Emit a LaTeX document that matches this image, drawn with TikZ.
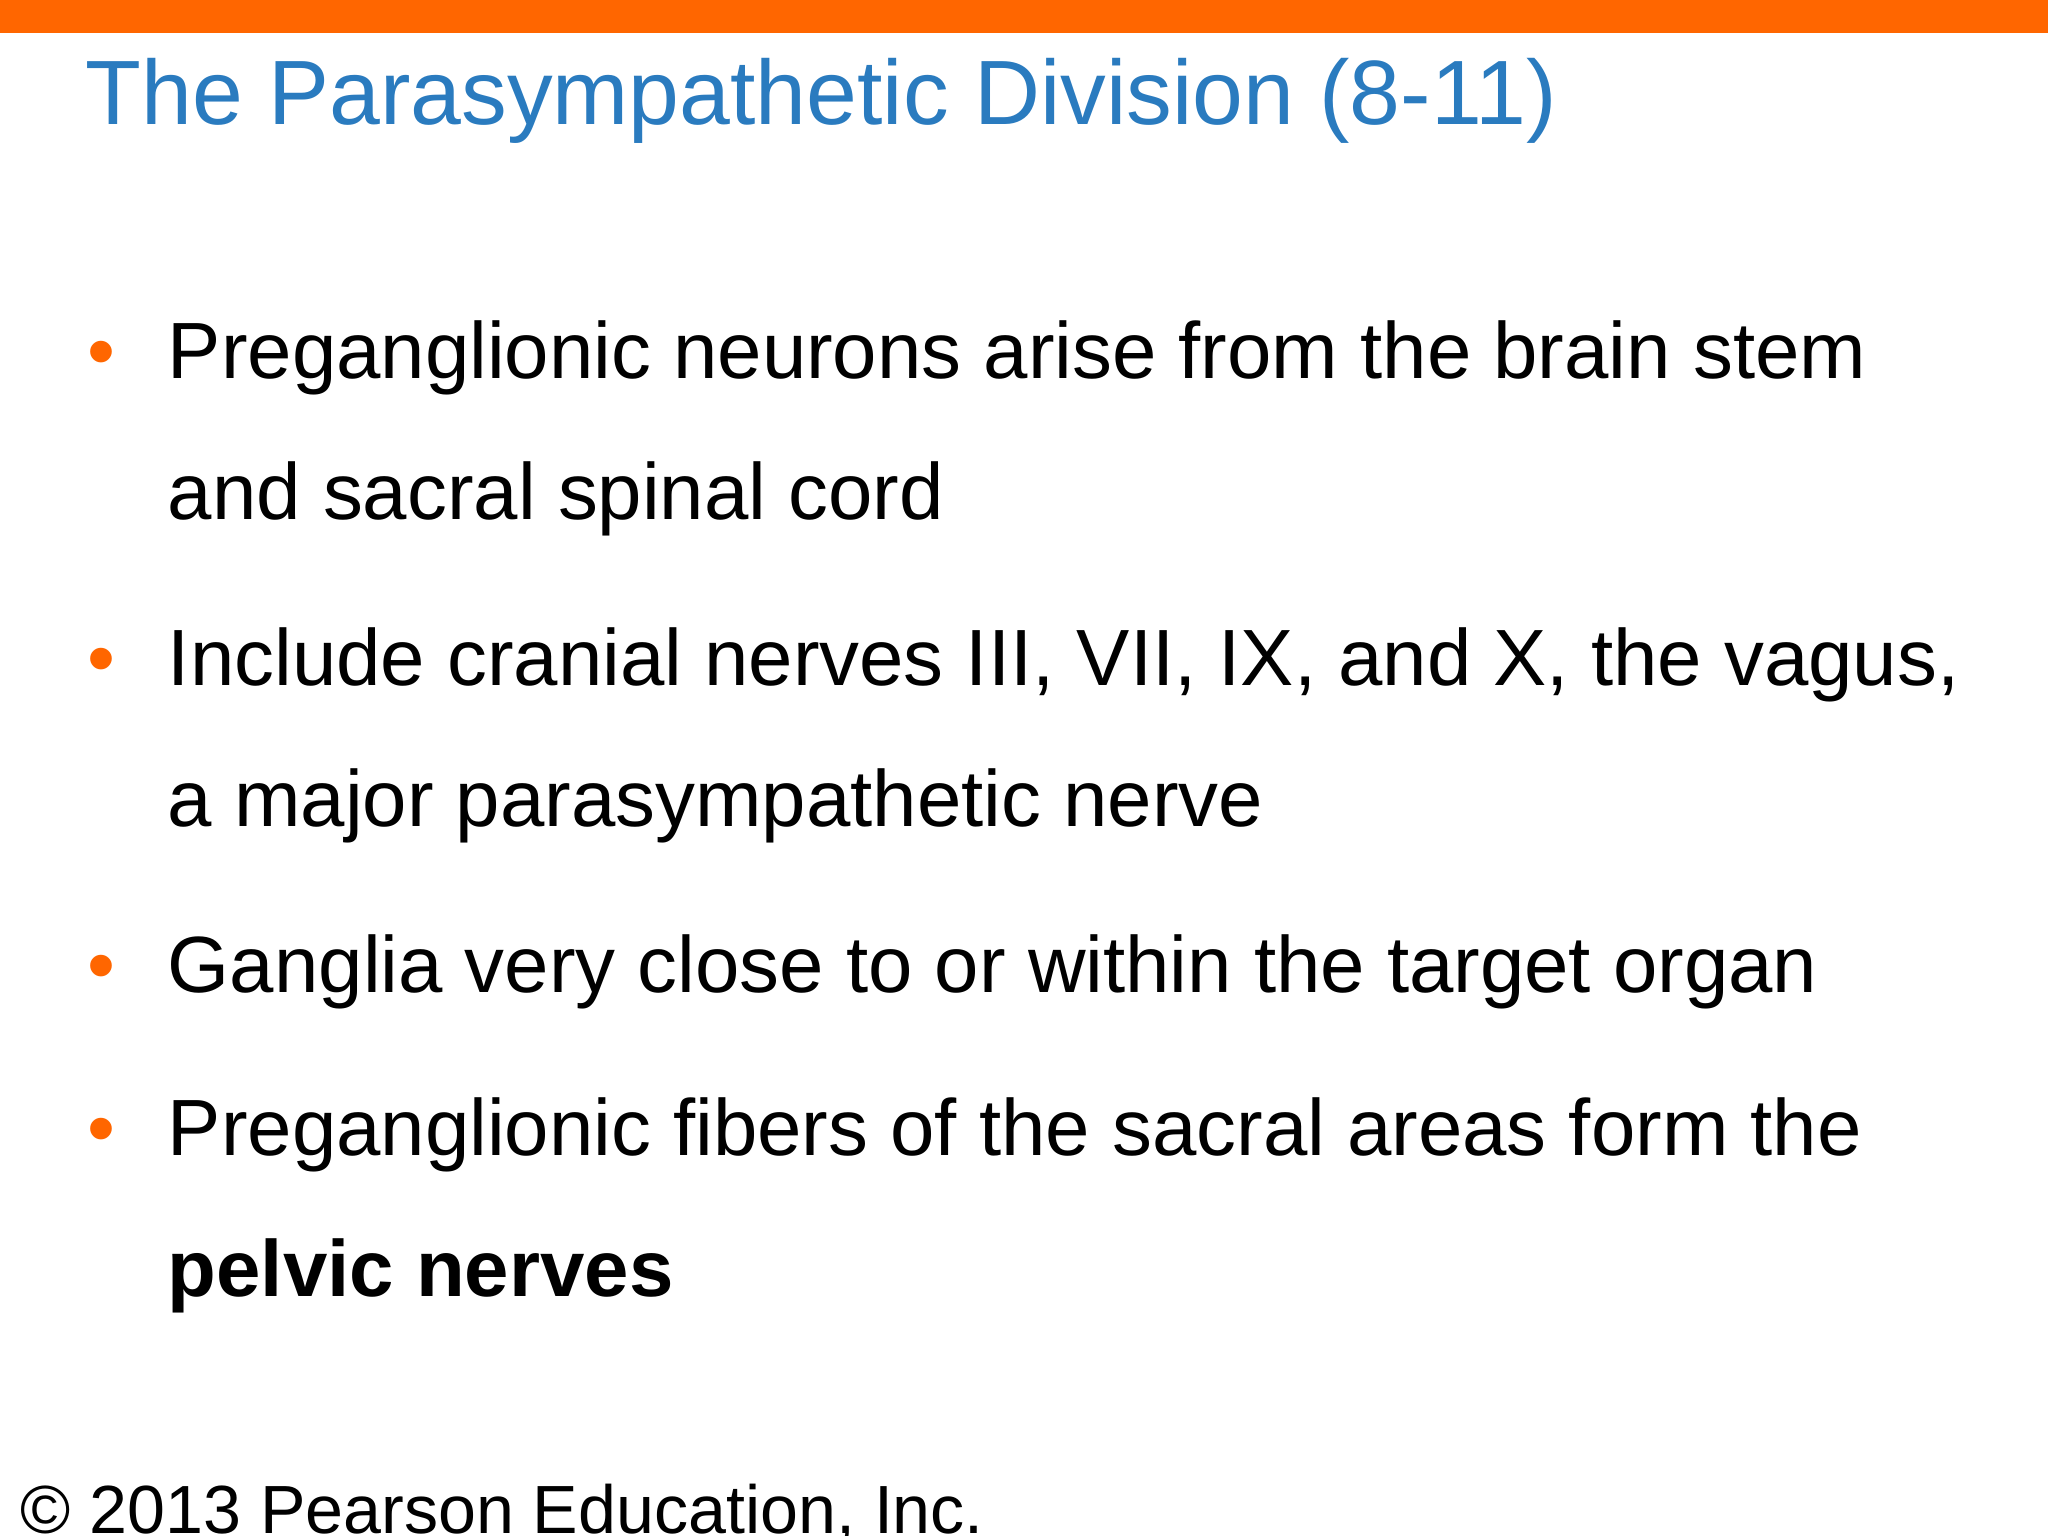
\documentclass[tikz,border=0pt]{standalone}
\usepackage{fontspec}
\setmainfont{Liberation Sans}
\definecolor{barorange}{HTML}{FF6600}
\definecolor{titleblue}{HTML}{2A7BBF}
\begin{document}
\begin{tikzpicture}[x=0.013061cm,y=-0.013061cm,
  body/.style={anchor=base west,inner sep=0pt,font=\fontsize{22.7pt}{27pt}\selectfont},
  bul/.style={anchor=base,inner sep=0pt,text=barorange,font=\fontsize{22.7pt}{27pt}\selectfont}]
\useasboundingbox (0,0) rectangle (1568,1176);
\fill[barorange] (0,0) rectangle (1568,25);
\node[anchor=base west,inner sep=0pt,text=titleblue,font=\fontsize{26pt}{31pt}\selectfont] (title) at (65,95) {The Parasympathetic Division (8-11)};
\node[bul] (b1) at (78,290) {•};
\node[body] (t1) at (128,290) {Preganglionic neurons arise from the brain stem};
\node[body] (t1b) at (128,398) {and sacral spinal cord};
\node[bul] (b2) at (78,525) {•};
\node[body] (t2) at (128,525) {Include cranial nerves III, VII, IX, and X, the vagus,};
\node[body] (t2b) at (128,633) {a major parasympathetic nerve};
\node[bul] (b3) at (78,760) {•};
\node[body] (t3) at (128,760) {Ganglia very close to or within the target organ};
\node[bul] (b4) at (78,885) {•};
\node[body] (t4) at (128,885) {Preganglionic fibers of the sacral areas form the};
\node[body] (t4b) at (128,993) {\textbf{pelvic nerves}};
\node[anchor=base west,inner sep=0pt,font=\fontsize{19.4pt}{23pt}\selectfont] (copy) at (15,1174) {© 2013 Pearson Education, Inc.};
\end{tikzpicture}
\end{document}
